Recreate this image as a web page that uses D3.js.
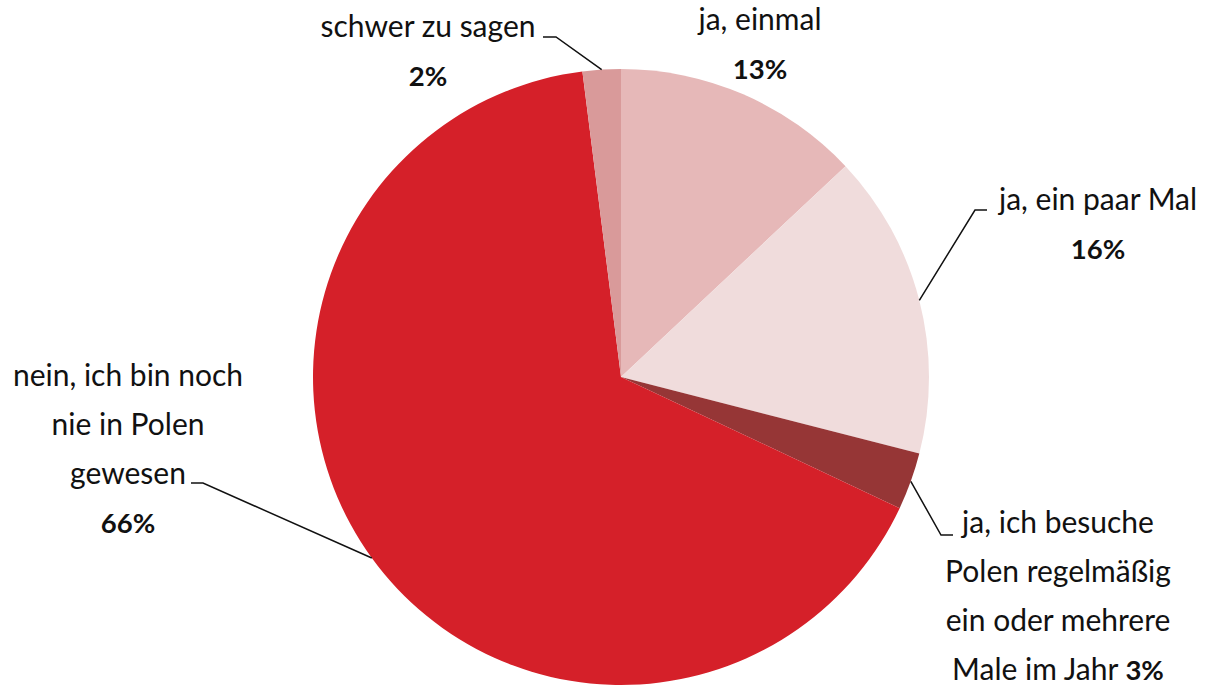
<!DOCTYPE html>
<html>
<head>
<meta charset="utf-8">
<script src="https://cdn.jsdelivr.net/npm/d3@7"></script>
<style>
  html, body { margin: 0; padding: 0; background: #fff; }
  svg text { font-family: Lato, "Open Sans", sans-serif; font-size: 30px; fill: #111; }
  svg tspan.pct { font-weight: bold; font-size: 27.5px; }
</style>
</head>
<body>
<div id="chart"></div>
<script>
// data
const categories = ['ja, einmal', 'ja, ein paar Mal', 'ja, ich besuche Polen regelmäßig ein oder mehrere Male im Jahr', 'nein, ich bin noch nie in Polen gewesen', 'schwer zu sagen'];
const values = [13, 16, 3, 66, 2];
const colors = ['#e6b8b8', '#f0dcdc', '#963636', '#d52029', '#d99a9a'];
const labelLines = [
  ['ja, einmal'],
  ['ja, ein paar Mal'],
  ['ja, ich besuche', 'Polen regelmäßig', 'ein oder mehrere', 'Male im Jahr'],
  ['nein, ich bin noch', 'nie in Polen', 'gewesen'],
  ['schwer zu sagen']
];

const width = 1218, height = 689;
const cx = 621, cy = 377, radius = 308;
const lineH = 49;

// label placement: text centre x, first baseline y, leader elbow (null = no leader)
// pctInline: percent goes on the last line
const labelLayout = [
  { x: 760, y: 30, elbow: null },
  { x: 1098, y: 210, elbow: [975, 210], tail: 987 },
  { x: 1058, y: 533, elbow: [941, 535], tail: 953, pctInline: true },
  { x: 128, y: 386, elbow: [203, 483], tail: 191 },
  { x: 428, y: 37, elbow: [556, 37], tail: 543 }
];

const svg = d3.select('#chart').append('svg')
  .attr('width', width)
  .attr('height', height);

const pie = d3.pie().sort(null).value(d => d);
const arcs = pie(values);

const arc = d3.arc().innerRadius(0).outerRadius(radius);
const edge = d3.arc().innerRadius(radius).outerRadius(radius);

const g = svg.append('g').attr('transform', `translate(${cx},${cy})`);

g.selectAll('path.slice')
  .data(arcs)
  .enter().append('path')
  .attr('class', 'slice')
  .attr('d', arc)
  .attr('fill', (d, i) => colors[i]);

// leader lines
arcs.forEach((d, i) => {
  const L = labelLayout[i];
  if (!L.elbow) return;
  const c = edge.centroid(d);
  const p0 = [cx + c[0], cy + c[1]];
  svg.append('polyline')
    .attr('points', [p0, L.elbow, [L.tail, L.elbow[1]]].map(p => p.join(',')).join(' '))
    .attr('fill', 'none')
    .attr('stroke', '#111')
    .attr('stroke-width', 1.5);
});

// labels
arcs.forEach((d, i) => {
  const L = labelLayout[i];
  const lines = labelLines[i];
  const t = svg.append('text')
    .attr('text-anchor', 'middle')
    .attr('x', L.x)
    .attr('y', L.y);
  lines.forEach((ln, j) => {
    t.append('tspan')
      .attr('x', L.x)
      .attr('dy', j === 0 ? 0 : lineH)
      .text(ln);
    if (L.pctInline && j === lines.length - 1) {
      t.append('tspan').text(' ');
      t.append('tspan').attr('class', 'pct').text(values[i] + '%');
    }
  });
  if (!L.pctInline) {
    t.append('tspan')
      .attr('class', 'pct')
      .attr('x', L.x)
      .attr('dy', lineH)
      .text(values[i] + '%');
  }
});
</script>
</body>
</html>
